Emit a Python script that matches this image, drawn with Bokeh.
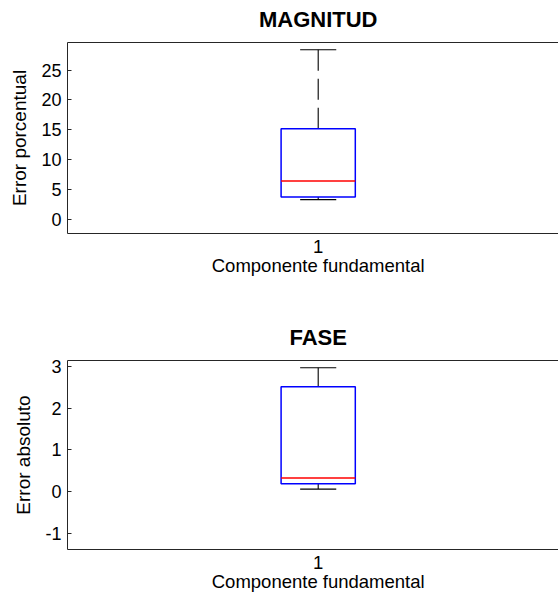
from bokeh.plotting import figure
from bokeh.models import Range1d, FixedTicker, LinearAxis, ColumnDataSource
from bokeh.layouts import column
from bokeh.embed import file_html
from bokeh.resources import INLINE

# Box-plot summaries: lower whisker, Q1, median, Q3, upper whisker
categories = [1]
mag_stats = [3.33, 3.77, 6.45, 15.17, 28.4]
fase_stats = [0.064, 0.19, 0.33, 2.51, 2.965]

mag_ticks = [0, 5, 10, 15, 20, 25]
fase_ticks = [-1, 0, 1, 2, 3]
mag_ylim = (-2.33, 29.6)
fase_ylim = (-1.38, 3.14)

x_label = "Componente fundamental"
mag_title, mag_ylabel = "MAGNITUD", "Error porcentual"
fase_title, fase_ylabel = "FASE", "Error absoluto"

FONT = "Liberation Sans"
FRAME = "#262626"
BOX_W = 0.148
CAP_W = 0.072
LEFT = 67


def panel(title, ylabel, stats, ticks, ylim, height, top, bottom):
    x_end = 0.5 + (558 - LEFT) / ((317.7 - LEFT) / 0.5)
    p = figure(width=558, height=height, output_backend="svg", toolbar_location=None,
               tools="", x_range=Range1d(0.5, x_end), y_range=Range1d(*ylim),
               min_border_left=LEFT, min_border_right=0,
               min_border_top=top, min_border_bottom=bottom)
    p.outline_line_color = None
    p.grid.visible = False
    p.background_fill_color = "white"
    p.border_fill_color = "white"

    lo, q1, med, q3, hi = stats
    c = categories[0]
    src = ColumnDataSource(dict(
        x=[c], left=[c - BOX_W / 2], right=[c + BOX_W / 2],
        cl=[c - CAP_W / 2], cr=[c + CAP_W / 2],
        lo=[lo], q1=[q1], med=[med], q3=[q3], hi=[hi]))

    # whiskers (dashed, starting from the box edge) and caps
    p.segment(x0="x", y0="q3", x1="x", y1="hi", source=src,
              line_color="black", line_width=1.1, line_dash="21 8")
    p.segment(x0="x", y0="q1", x1="x", y1="lo", source=src,
              line_color="black", line_width=1.1, line_dash="21 8")
    p.segment(x0="cl", y0="hi", x1="cr", y1="hi", source=src,
              line_color="black", line_width=1.1)
    p.segment(x0="cl", y0="lo", x1="cr", y1="lo", source=src,
              line_color="black", line_width=1.1)
    # box and median
    p.quad(left="left", right="right", bottom="q1", top="q3", source=src,
           fill_color=None, line_color="#0000ff", line_width=1.5)
    p.segment(x0="left", y0="med", x1="right", y1="med", source=src,
              line_color="#ff0000", line_width=1.5)

    # y axis: ticks pointing inward
    ya = p.yaxis[0]
    ya.ticker = FixedTicker(ticks=ticks)
    ya.major_label_overrides = {t: str(t) for t in ticks}
    ya.major_tick_in = 4
    ya.major_tick_out = 0
    ya.minor_tick_in = 0
    ya.minor_tick_out = 0
    ya.major_label_standoff = 6
    ya.major_label_text_font = FONT
    ya.major_label_text_font_size = "18px"
    ya.major_label_text_color = "black"
    ya.axis_line_color = FRAME
    ya.major_tick_line_color = FRAME
    ya.axis_label = ylabel
    ya.axis_label_text_font = FONT
    ya.axis_label_text_font_size = "19px"
    ya.axis_label_text_font_style = "normal"
    ya.axis_label_text_color = "black"
    ya.axis_label_standoff = 8

    # x axis: category number with the axis title underneath, centred on it
    xa = p.xaxis[0]
    xa.ticker = FixedTicker(ticks=categories)
    xa.major_label_overrides = {c: f"{c}\n{x_label}"}
    xa.major_tick_in = 0
    xa.major_tick_out = 0
    xa.minor_tick_in = 0
    xa.minor_tick_out = 0
    xa.major_label_standoff = 2
    xa.major_label_text_font = FONT
    xa.major_label_text_font_size = "18.5px"
    xa.major_label_text_line_height = 0.95
    xa.major_label_text_color = "black"
    xa.axis_line_color = FRAME

    # top edge of the axes box, carrying the panel title over the category
    ta = LinearAxis(ticker=FixedTicker(ticks=categories),
                    major_label_overrides={c: title},
                    major_label_text_font=FONT, major_label_text_font_size="22px",
                    major_label_text_font_style="bold", major_label_text_color="black",
                    major_label_standoff=11,
                    major_tick_in=0, major_tick_out=0, minor_tick_in=0, minor_tick_out=0,
                    axis_line_color=FRAME)
    p.add_layout(ta, "above")
    return p


p1 = panel(mag_title, mag_ylabel, mag_stats, mag_ticks, mag_ylim, 298, 42, 65)
p2 = panel(fase_title, fase_ylabel, fase_stats, fase_ticks, fase_ylim, 297, 62, 43)

layout = column(p1, p2, spacing=0)
open("out.html", "w").write(file_html(layout, INLINE))
